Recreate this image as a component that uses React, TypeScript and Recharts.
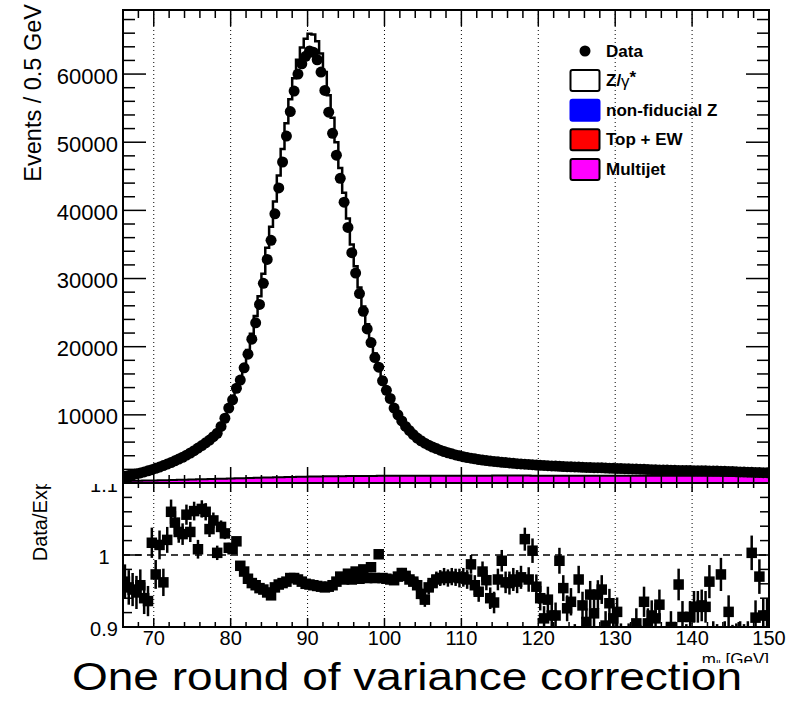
import {
	Area,
	CartesianGrid,
	ComposedChart,
	ErrorBar,
	Legend,
	ReferenceArea,
	ReferenceLine,
	Scatter,
	XAxis,
	YAxis,
} from "recharts";

const FONT = "'Liberation Sans', Arial, Helvetica, sans-serif";
const MASS_MIN = 66;
const MASS_MAX = 150;
const BIN_WIDTH = 0.5;

// events per 0.5 GeV bin, 66 -> 150 GeV (168 bins)
const dataEvents = [
	1000, 1100, 1210, 1340, 1470, 1620, 1780, 1960, 2150, 2340,
	2550, 2770, 3000, 3250, 3510, 3780, 4080, 4400, 4750, 5130,
	5500, 5900, 6300, 6800, 7300, 8300, 9500, 11000, 12200, 13900,
	15100, 16900, 18900, 21100, 23500, 26200, 29300, 32800, 35600, 39500,
	43300, 47100, 50900, 54500, 57500, 60000, 61500, 62600, 63400, 63200,
	62100, 60300, 57600, 54400, 51300, 48100, 44700, 41200, 37500, 33800,
	30800, 27800, 25200, 22600, 20600, 18400, 17000, 15000, 13600, 12400,
	11000, 10000, 9100, 8300, 7700, 7100, 6600, 6200, 5850, 5550,
	5280, 5050, 4820, 4620, 4440, 4280, 4120, 3980, 3850, 3740,
	3640, 3540, 3450, 3370, 3290, 3220, 3160, 3100, 3040, 2990,
	2940, 2890, 2840, 2800, 2760, 2720, 2680, 2640, 2600, 2570,
	2540, 2510, 2480, 2450, 2420, 2390, 2370, 2350, 2330, 2310,
	2290, 2270, 2250, 2240, 2220, 2200, 2180, 2160, 2140, 2120,
	2100, 2080, 2060, 2040, 2020, 2000, 1980, 1960, 1940, 1925,
	1910, 1895, 1880, 1865, 1850, 1840, 1830, 1820, 1810, 1800,
	1790, 1780, 1770, 1760, 1750, 1730, 1710, 1690, 1670, 1650,
	1630, 1610, 1590, 1570, 1550, 1535, 1520, 1510,
];

const zgammaEvents = [
	1050, 1150, 1270, 1400, 1530, 1690, 1860, 2020, 2190, 2350,
	2520, 2700, 2870, 3100, 3360, 3620, 3880, 4200, 4510, 4880,
	5220, 5600, 6020, 6500, 7150, 8050, 9250, 10800, 12000, 13700,
	15300, 17300, 19500, 21900, 24500, 27400, 30700, 34500, 37600, 41300,
	45100, 49000, 52800, 56300, 59400, 62100, 63900, 65200, 65900, 65800,
	64800, 63000, 60300, 56900, 53600, 50000, 46200, 42600, 38800, 35000,
	31800, 28700, 25900, 23300, 21100, 19000, 17300, 15500, 14050, 12850,
	11400, 10350, 9400, 8600, 7950, 7350, 6850, 6450, 6150, 5800,
	5500, 5250, 5000, 4790, 4600, 4430, 4270, 4120, 3990, 3870,
	3760, 3660, 3570, 3480, 3400, 3330, 3260, 3200, 3140, 3090,
	3040, 2990, 2940, 2900, 2850, 2810, 2770, 2730, 2700, 2670,
	2640, 2610, 2580, 2550, 2520, 2490, 2460, 2440, 2420, 2400,
	2380, 2360, 2340, 2320, 2300, 2280, 2260, 2240, 2220, 2200,
	2180, 2160, 2140, 2120, 2100, 2080, 2060, 2040, 2020, 2000,
	1985, 1970, 1955, 1940, 1925, 1910, 1895, 1880, 1865, 1850,
	1840, 1830, 1820, 1810, 1800, 1785, 1770, 1755, 1740, 1725,
	1710, 1695, 1680, 1665, 1650, 1635, 1620, 1610,
];

const multijetEvents = [
	300, 310, 320, 330, 340, 350, 360, 370, 380, 390,
	400, 415, 430, 445, 460, 475, 490, 505, 520, 535,
	550, 565, 580, 595, 610, 625, 640, 655, 670, 685,
	700, 715, 730, 745, 760, 775, 790, 805, 820, 835,
	850, 862, 874, 886, 898, 910, 920, 930, 940, 950,
	958, 966, 974, 982, 990, 996, 1002, 1008, 1014, 1020,
	1024, 1028, 1032, 1036, 1040, 1043, 1046, 1049, 1052, 1055,
	1057, 1059, 1061, 1063, 1065, 1067, 1068, 1069, 1070, 1071,
	1072, 1073, 1074, 1075, 1076, 1077, 1078, 1079, 1080, 1080,
	1080, 1081, 1081, 1082, 1082, 1082, 1083, 1083, 1083, 1083,
	1083, 1083, 1083, 1083, 1083, 1083, 1082, 1082, 1082, 1082,
	1081, 1081, 1081, 1080, 1080, 1080, 1079, 1079, 1079, 1078,
	1078, 1077, 1077, 1076, 1076, 1075, 1075, 1074, 1074, 1073,
	1073, 1072, 1072, 1071, 1071, 1070, 1070, 1069, 1069, 1068,
	1068, 1067, 1067, 1066, 1066, 1065, 1065, 1064, 1064, 1063,
	1063, 1062, 1062, 1061, 1061, 1060, 1060, 1059, 1059, 1058,
	1058, 1057, 1057, 1056, 1056, 1055, 1055, 1054,
];

const ratioValues = [
	0.963, 0.955, 0.952, 0.948, 0.958, 0.94, 0.936, 1.017, 0.973, 1.014,
	0.962, 1.021, 1.06, 1.045, 1.032, 1.029, 1.056, 1.032, 1.061, 1.008,
	1.064, 1.06, 1.036, 1.048, 1.003, 1.039, 1.03, 1.01, 1.008, 1.019,
	0.985, 0.977, 0.967, 0.961, 0.958, 0.954, 0.952, 0.948, 0.944, 0.955,
	0.959, 0.961, 0.963, 0.968, 0.968, 0.966, 0.963, 0.96, 0.959, 0.958,
	0.957, 0.956, 0.955, 0.956, 0.958, 0.963, 0.97, 0.966, 0.974, 0.966,
	0.977, 0.967, 0.98, 0.968, 0.983, 0.968, 1.001, 0.968, 0.967, 0.966,
	0.965, 0.97, 0.975, 0.971, 0.966, 0.963, 0.958, 0.946, 0.938, 0.955,
	0.961, 0.966, 0.968, 0.97, 0.968, 0.97, 0.969, 0.968, 0.969, 0.966,
	0.987, 0.958, 0.949, 0.977, 0.965, 0.94, 0.934, 0.966, 0.992, 0.962,
	0.961, 0.966, 0.963, 0.969, 1.022, 0.966, 1.006, 0.956, 0.94, 0.912,
	0.938, 0.916, 0.916, 0.992, 0.954, 0.926, 0.935, 0.885, 0.966, 0.93,
	0.907, 0.945, 0.919, 0.945, 0.952, 0.902, 0.933, 0.912, 0.921, 0.885,
	0.88, 0.885, 0.88, 0.905, 0.882, 0.935, 0.905, 0.916, 0.912, 0.931,
	0.88, 0.884, 0.9, 0.885, 0.959, 0.914, 0.882, 0.914, 0.928, 0.928,
	0.93, 0.928, 0.963, 0.885, 0.881, 0.973, 0.885, 0.921, 0.88, 0.882,
	0.885, 0.88, 0.884, 1.003, 0.913, 0.97, 0.916, 0.916,
];

const ratioErrors = [
	0.024, 0.024, 0.023, 0.023, 0.022, 0.022, 0.021, 0.021, 0.02, 0.02,
	0.019, 0.018, 0.017, 0.016, 0.015, 0.015, 0.014, 0.014, 0.013, 0.013,
	0.012, 0.012, 0.011, 0.011, 0.01, 0.009, 0.008, 0.007, 0.006, 0.006,
	0.005, 0.005, 0.005, 0.004, 0.004, 0.004, 0.004, 0.003, 0.003, 0.003,
	0.003, 0.003, 0.003, 0.003, 0.003, 0.003, 0.003, 0.003, 0.003, 0.003,
	0.003, 0.003, 0.003, 0.003, 0.003, 0.003, 0.003, 0.003, 0.003, 0.003,
	0.004, 0.004, 0.004, 0.004, 0.004, 0.005, 0.005, 0.005, 0.005, 0.005,
	0.006, 0.006, 0.007, 0.007, 0.008, 0.008, 0.009, 0.009, 0.01, 0.01,
	0.011, 0.011, 0.011, 0.012, 0.012, 0.012, 0.012, 0.013, 0.013, 0.013,
	0.013, 0.014, 0.014, 0.014, 0.014, 0.015, 0.015, 0.015, 0.015, 0.015,
	0.016, 0.016, 0.016, 0.016, 0.016, 0.017, 0.017, 0.017, 0.017, 0.017,
	0.018, 0.018, 0.018, 0.018, 0.018, 0.018, 0.019, 0.019, 0.019, 0.019,
	0.019, 0.019, 0.019, 0.02, 0.02, 0.02, 0.02, 0.02, 0.02, 0.02,
	0.02, 0.02, 0.021, 0.021, 0.021, 0.021, 0.021, 0.021, 0.021, 0.021,
	0.021, 0.022, 0.022, 0.022, 0.022, 0.022, 0.022, 0.022, 0.022, 0.022,
	0.022, 0.022, 0.023, 0.023, 0.023, 0.023, 0.023, 0.023, 0.023, 0.023,
	0.023, 0.024, 0.024, 0.024, 0.024, 0.024, 0.024, 0.024,
];

const massLabels = [70, 80, 90, 100, 110, 120, 130, 140, 150];
const massTicks = [
	68, 70, 72, 74, 76, 78, 80, 82, 84, 86, 88, 90, 92, 94, 96, 98, 100, 102, 104, 106, 108,
	110, 112, 114, 116, 118, 120, 122, 124, 126, 128, 130, 132, 134, 136, 138, 140, 142, 144,
	146, 148, 150,
];
const eventLabels = [10000, 20000, 30000, 40000, 50000, 60000];
const eventTicks = [
	0, 2000, 4000, 6000, 8000, 10000, 12000, 14000, 16000, 18000, 20000, 22000, 24000, 26000,
	28000, 30000, 32000, 34000, 36000, 38000, 40000, 42000, 44000, 46000, 48000, 50000, 52000,
	54000, 56000, 58000, 60000, 62000, 64000, 66000, 68000,
];
const ratioLabels = [0.9, 1, 1.1];
const ratioTicks = [0.9, 0.92, 0.94, 0.96, 0.98, 1, 1.02, 1.04, 1.06, 1.08, 1.1];

const legendItems = [
	{ label: "Data", kind: "marker", color: "#000000" },
	{ label: "Z/γ*", kind: "box", color: "#ffffff" },
	{ label: "non-fiducial Z", kind: "box", color: "#0000ff" },
	{ label: "Top + EW", kind: "box", color: "#ff0000" },
	{ label: "Multijet", kind: "box", color: "#ff00ff" },
];

const pointRows = dataEvents.map((v, i) => ({
	m: MASS_MIN + BIN_WIDTH * (i + 0.5),
	events: v,
	ratio: ratioValues[i],
	err: ratioErrors[i],
}));

// step histograms: one row per lower bin edge, plus the closing edge
const histRows = zgammaEvents.map((v, i) => ({
	m: MASS_MIN + BIN_WIDTH * i,
	zg: v,
	mj: multijetEvents[i],
}));
histRows.push({
	m: MASS_MAX,
	zg: zgammaEvents[zgammaEvents.length - 1],
	mj: multijetEvents[multijetEvents.length - 1],
});

const massDomain = [MASS_MIN, MASS_MAX];
const eventDomain = [0, 69400];
const ratioDomain = [0.9, 1.1];

// pad geometry (svg pixels) used for the mirrored tick marks
const PLOT_RIGHT = 769;
const MAIN_HEIGHT = 473;
const RATIO_HEIGHT = 144;
const frameLine = { stroke: "#000", strokeWidth: 2 };
const tickLineStyle = { stroke: "#000", strokeWidth: 1.5 };
const isOneOf = (v, list) => list.some((t) => Math.abs(t - v) < 1e-6);

// tick renderers draw the inward tick on both sides of the pad plus the label
function massTick(padHeight, major, minor, withLabel) {
	return (props) => {
		const { x, y, payload } = props;
		const v = payload.value;
		const labelled = isOneOf(v, massLabels);
		const len = labelled ? major : minor;
		return (
			<g>
				{v < MASS_MAX && (
					<>
						<line x1={x} x2={x} y1={y} y2={y - len} {...tickLineStyle} />
						<line x1={x} x2={x} y1={y - padHeight} y2={y - padHeight + len} {...tickLineStyle} />
					</>
				)}
				{withLabel && labelled && (
					<text x={x} y={y + 18} textAnchor="middle" fontFamily={FONT} fontSize={20} fill="#000">
						{v}
					</text>
				)}
			</g>
		);
	};
}

function valueTick(labels, major, minor, labelProps) {
	return (props) => {
		const { x, y, payload } = props;
		const v = payload.value;
		const labelled = isOneOf(v, labels);
		const len = labelled ? major : minor;
		return (
			<g>
				<line x1={x} x2={x + len} y1={y} y2={y} {...tickLineStyle} />
				<line x1={PLOT_RIGHT} x2={PLOT_RIGHT - len} y1={y} y2={y} {...tickLineStyle} />
				{labelled && (
					<text
						x={x + labelProps.dx}
						y={y + labelProps.dy}
						textAnchor={labelProps.anchor}
						fontFamily={FONT}
						fontSize={labelProps.size}
						fill="#000"
					>
						{v}
					</text>
				)}
			</g>
		);
	};
}

const mainMassTick = massTick(MAIN_HEIGHT, 16, 8, false);
const ratioMassTick = massTick(RATIO_HEIGHT, 9, 5, true);
const eventTick = valueTick(eventLabels, 23, 12, { dx: -5, dy: 9.5, anchor: "end", size: 22 });
const ratioTick = valueTick(ratioLabels, 18, 9, { dx: -19, dy: 8.5, anchor: "middle", size: 20 });

function renderLegend() {
	return (
		<svg width={210} height={150} style={{ display: "block" }}>
			{legendItems.map((item, i) => {
				const cy = 16 + i * 29.6;
				return (
					<g key={item.label}>
						{item.kind === "marker" ? (
							<circle cx={25} cy={cy} r={5.5} fill={item.color} />
						) : (
							<rect
								x={10.5}
								y={cy - 10.5}
								width={29}
								height={21}
								rx={2}
								fill={item.color}
								stroke={item.color === "#0000ff" ? item.color : "#000"}
								strokeWidth={2}
							/>
						)}
						<text
							x={46}
							y={cy}
							dominantBaseline="central"
							fontFamily={FONT}
							fontSize={17}
							fontWeight="bold"
							fill="#000"
						>
							{item.label === "Z/γ*" ? (
								<>
									Z/<tspan fontWeight="normal">γ</tspan>
									<tspan dy={-4}>*</tspan>
								</>
							) : (
								item.label
							)}
						</text>
					</g>
				);
			})}
		</svg>
	);
}

const dataDot = (p) => <circle cx={p.cx} cy={p.cy} r={5.5} fill="#000" />;
const ratioSquare = (p) => <rect x={p.cx - 5.25} y={p.cy - 5.25} width={10.5} height={10.5} fill="#000" />;

function MainPad() {
	return (
		<ComposedChart width={792} height={484} margin={{ top: 10, right: 23, bottom: 0, left: 0 }}>
			<XAxis
				xAxisId="m"
				dataKey="m"
				type="number"
				domain={massDomain}
				allowDataOverflow
				height={1}
				ticks={massTicks}
				interval={0}
				tickSize={0}
				tickMargin={0}
				tickLine={false}
				axisLine={frameLine}
				tick={mainMassTick}
			/>
			<YAxis
				yAxisId="ev"
				type="number"
				domain={eventDomain}
				allowDataOverflow
				width={123}
				ticks={eventTicks}
				interval={0}
				tickSize={0}
				tickMargin={0}
				tickLine={false}
				axisLine={frameLine}
				tick={eventTick}
				label={() => (
					<text
						transform="translate(41,4) rotate(-90)"
						textAnchor="end"
						fontFamily={FONT}
						fontSize={23.5}
						fill="#000"
					>
						Events / 0.5 GeV
					</text>
				)}
			/>
			<CartesianGrid
				xAxisId="m"
				yAxisId="ev"
				horizontal={false}
				verticalValues={massLabels}
				stroke="#000"
				strokeDasharray="1 3"
			/>
			<Area
				xAxisId="m"
				yAxisId="ev"
				data={histRows}
				dataKey="zg"
				name="Z/γ*"
				type="stepAfter"
				fill="#ffffff"
				fillOpacity={1}
				stroke="#000"
				strokeWidth={2.5}
				dot={false}
				activeDot={false}
				isAnimationActive={false}
			/>
			<Area
				xAxisId="m"
				yAxisId="ev"
				data={histRows}
				dataKey="mj"
				name="Multijet"
				type="stepAfter"
				fill="#ff00ff"
				fillOpacity={1}
				stroke="#000"
				strokeWidth={2}
				dot={false}
				activeDot={false}
				isAnimationActive={false}
			/>
			<Scatter
				xAxisId="m"
				yAxisId="ev"
				data={pointRows}
				dataKey="events"
				name="Data"
				shape={dataDot}
				isAnimationActive={false}
			/>
			<ReferenceArea
				xAxisId="m"
				yAxisId="ev"
				x1={MASS_MIN}
				x2={MASS_MAX}
				y1={eventDomain[0]}
				y2={eventDomain[1]}
				fill="none"
				stroke="#000"
				strokeWidth={2}
			/>
			<Legend
				content={renderLegend}
				layout="horizontal"
				verticalAlign="middle"
				align="center"
				wrapperStyle={{ position: "absolute", left: 560, top: 35, width: 210, height: 150 }}
			/>
		</ComposedChart>
	);
}

function RatioPad() {
	return (
		<ComposedChart width={792} height={193} margin={{ top: 13, right: 23, bottom: 0, left: 0 }}>
			<defs>
				<clipPath id="ratio-frame">
					<rect x={123} y={13} width={646} height={144} />
				</clipPath>
			</defs>
			<XAxis
				xAxisId="m"
				dataKey="m"
				type="number"
				domain={massDomain}
				allowDataOverflow
				height={36}
				ticks={massTicks}
				interval={0}
				tickSize={0}
				tickMargin={0}
				tickLine={false}
				axisLine={frameLine}
				tick={ratioMassTick}
				label={(props) => {
					const vb = props.viewBox;
					return (
						<text
							x={vb.x + vb.width}
							y={vb.y + 38}
							textAnchor="end"
							fontFamily={FONT}
							fontSize={17}
							fill="#000"
						>
							m<tspan fontSize={11} dy={3}>ll</tspan>
							<tspan dy={-3}> [GeV]</tspan>
						</text>
					);
				}}
			/>
			<YAxis
				yAxisId="r"
				type="number"
				domain={ratioDomain}
				allowDataOverflow
				width={123}
				ticks={ratioTicks}
				interval={0}
				tickSize={0}
				tickMargin={0}
				tickLine={false}
				axisLine={frameLine}
				tick={ratioTick}
				label={() => (
					<text
						transform="translate(47,9) rotate(-90)"
						textAnchor="end"
						fontFamily={FONT}
						fontSize={20}
						fill="#000"
					>
						Data/Exp
					</text>
				)}
			/>
			<CartesianGrid
				xAxisId="m"
				yAxisId="r"
				horizontal={false}
				verticalValues={massLabels}
				stroke="#000"
				strokeDasharray="1 3"
			/>
			<ReferenceLine xAxisId="m" yAxisId="r" y={1} stroke="#000" strokeWidth={1.5} strokeDasharray="7 5" />
			<Scatter
				xAxisId="m"
				yAxisId="r"
				data={pointRows}
				dataKey="ratio"
				name="Data/Exp"
				shape={ratioSquare}
				isAnimationActive={false}
			>
				<ErrorBar
					dataKey="err"
					direction="y"
					width={0}
					stroke="#000"
					strokeWidth={2.5}
					clipPath="url(#ratio-frame)"
				/>
			</Scatter>
			<ReferenceArea
				xAxisId="m"
				yAxisId="r"
				x1={MASS_MIN}
				x2={MASS_MAX}
				y1={ratioDomain[0]}
				y2={ratioDomain[1]}
				fill="none"
				stroke="#000"
				strokeWidth={2}
			/>
		</ComposedChart>
	);
}

export default function App() {
	return (
		<div style={{ position: "absolute", left: 0, top: 0, width: 792, height: 703, background: "#fff" }}>
			<div style={{ position: "absolute", left: 0, top: 470 }}>
				<RatioPad />
			</div>
			<div style={{ position: "absolute", left: 0, top: 0, background: "#fff" }}>
				<MainPad />
			</div>
			<svg
				width={792}
				height={48}
				style={{ position: "absolute", left: 0, top: 655, display: "block" }}
			>
				<text
					x={407}
					y={35}
					textAnchor="middle"
					fontFamily={FONT}
					fontSize={38}
					fill="#000"
					textLength={670}
					lengthAdjust="spacingAndGlyphs"
				>
					One round of variance correction
				</text>
			</svg>
		</div>
	);
}
